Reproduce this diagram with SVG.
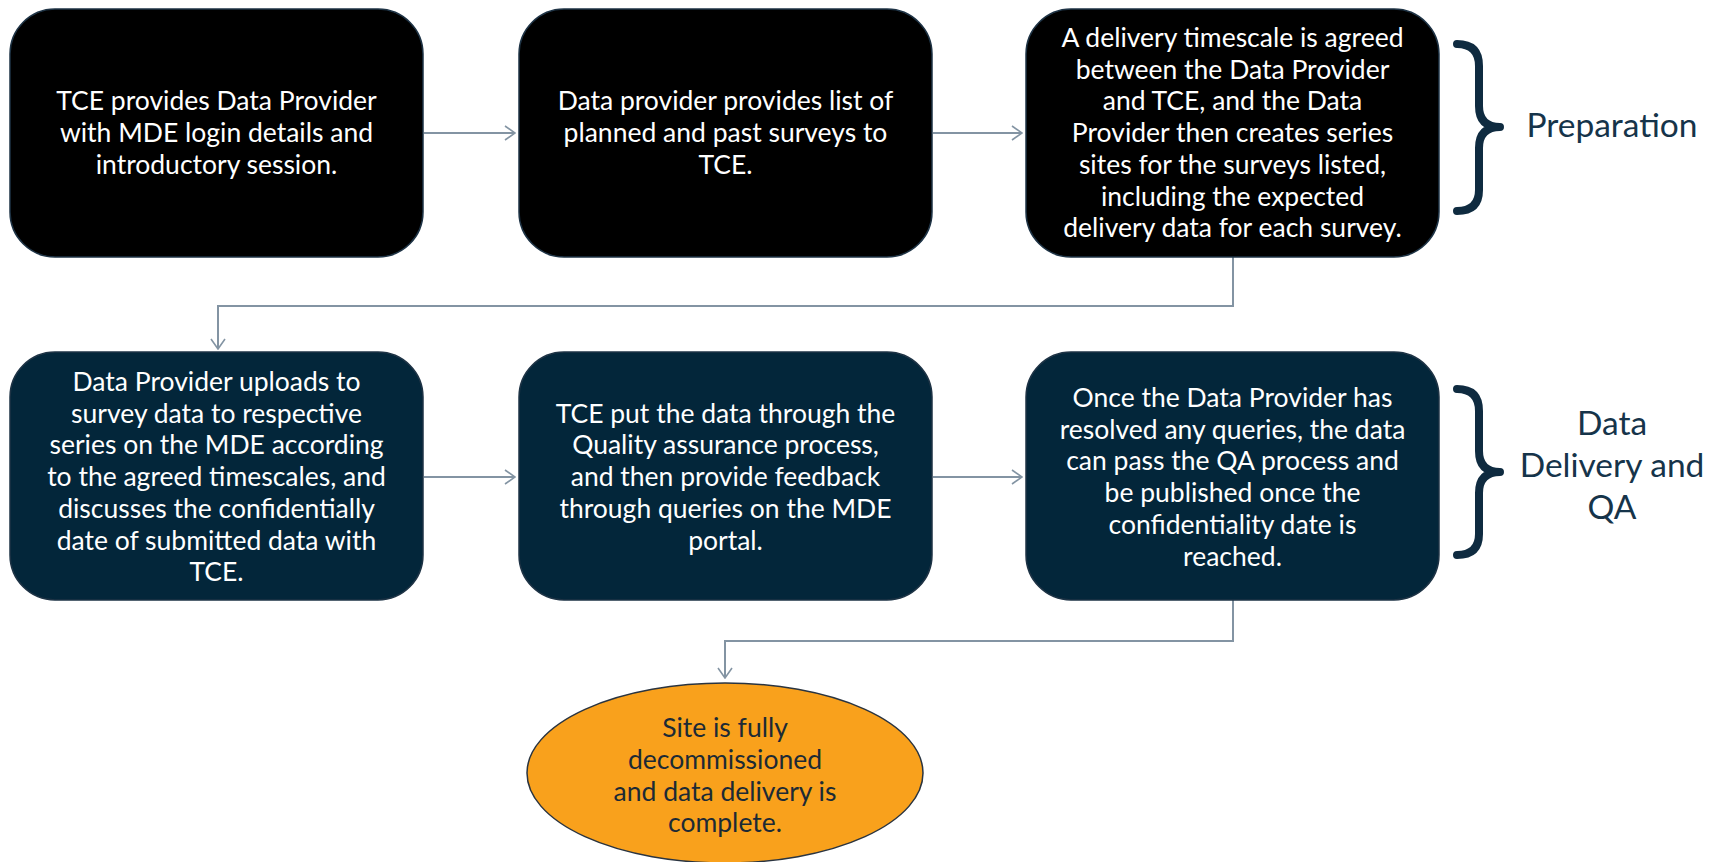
<svg xmlns="http://www.w3.org/2000/svg" width="1721" height="862" viewBox="0 0 1721 862">
<style>
.box{stroke:#1E3345;stroke-width:1.5}
.b1{fill:#000000}
.b2{fill:#03263A}
.t{font-family:Lato,"Liberation Sans",sans-serif;font-size:26.5px;fill:#ffffff;text-anchor:middle}
.te{font-family:Lato,"Liberation Sans",sans-serif;font-size:26.5px;fill:#1C2A35;text-anchor:middle}
.lbl{font-family:Lato,"Liberation Sans",sans-serif;font-size:33.5px;fill:#16344A;text-anchor:middle}
.c{fill:none;stroke:#8394A3;stroke-width:2}
.brace{fill:none;stroke:#0F2B40;stroke-width:8;stroke-linecap:round;stroke-linejoin:round}
</style>
<defs>
<marker id="ah" viewBox="0 0 12 16" refX="11" refY="8" markerWidth="12" markerHeight="16" markerUnits="userSpaceOnUse" orient="auto">
<path d="M1,1 L11,8 L1,15" fill="none" stroke="#8394A3" stroke-width="1.6"/>
</marker>
</defs>
<g id="connectors">
<line class="c" x1="424" y1="133" x2="515" y2="133" marker-end="url(#ah)"/>
<line class="c" x1="933" y1="133" x2="1022" y2="133" marker-end="url(#ah)"/>
<path class="c" d="M1233,257 V306 H218 V349" marker-end="url(#ah)"/>
<line class="c" x1="424" y1="477" x2="515" y2="477" marker-end="url(#ah)"/>
<line class="c" x1="933" y1="477" x2="1022" y2="477" marker-end="url(#ah)"/>
<path class="c" d="M1233,600 V641 H725 V678" marker-end="url(#ah)"/>
</g>
<g id="node1">
<rect class="box b1" x="10" y="9" width="413" height="248" rx="45"/>
<text class="t"><tspan x="216.5" y="110">TCE provides Data Provider</tspan><tspan x="216.5" y="142">with MDE login details and</tspan><tspan x="216.5" y="174">introductory session.</tspan></text>
</g>
<g id="node2">
<rect class="box b1" x="519" y="9" width="413" height="248" rx="45"/>
<text class="t"><tspan x="725.5" y="110">Data provider provides list of</tspan><tspan x="725.5" y="142">planned and past surveys to</tspan><tspan x="725.5" y="174">TCE.</tspan></text>
</g>
<g id="node3">
<rect class="box b1" x="1026" y="9" width="413" height="248" rx="45"/>
<text class="t"><tspan x="1232.5" y="47">A delivery timescale is agreed</tspan><tspan x="1232.5" y="79">between the Data Provider</tspan><tspan x="1232.5" y="110">and TCE, and the Data</tspan><tspan x="1232.5" y="142">Provider then creates series</tspan><tspan x="1232.5" y="174">sites for the surveys listed,</tspan><tspan x="1232.5" y="206">including the expected</tspan><tspan x="1232.5" y="237">delivery data for each survey.</tspan></text>
</g>
<g id="node4">
<rect class="box b2" x="10" y="352" width="413" height="248" rx="45"/>
<text class="t"><tspan x="216.5" y="391">Data Provider uploads to</tspan><tspan x="216.5" y="423">survey data to respective</tspan><tspan x="216.5" y="454">series on the MDE according</tspan><tspan x="216.5" y="486">to the agreed timescales, and</tspan><tspan x="216.5" y="518">discusses the confidentially</tspan><tspan x="216.5" y="550">date of submitted data with</tspan><tspan x="216.5" y="581">TCE.</tspan></text>
</g>
<g id="node5">
<rect class="box b2" x="519" y="352" width="413" height="248" rx="45"/>
<text class="t"><tspan x="725.5" y="423">TCE put the data through the</tspan><tspan x="725.5" y="454">Quality assurance process,</tspan><tspan x="725.5" y="486">and then provide feedback</tspan><tspan x="725.5" y="518">through queries on the MDE</tspan><tspan x="725.5" y="550">portal.</tspan></text>
</g>
<g id="node6">
<rect class="box b2" x="1026" y="352" width="413" height="248" rx="45"/>
<text class="t"><tspan x="1232.5" y="407">Once the Data Provider has</tspan><tspan x="1232.5" y="439">resolved any queries, the data</tspan><tspan x="1232.5" y="470">can pass the QA process and</tspan><tspan x="1232.5" y="502">be published once the</tspan><tspan x="1232.5" y="534">confidentiality date is</tspan><tspan x="1232.5" y="566">reached.</tspan></text>
</g>
<g id="node7">
<ellipse cx="725" cy="773" rx="198" ry="90" fill="#F9A11C" stroke="#2A3440" stroke-width="1.5"/>
<text class="te"><tspan x="725" y="737">Site is fully</tspan><tspan x="725" y="769">decommissioned</tspan><tspan x="725" y="801">and data delivery is</tspan><tspan x="725" y="832">complete.</tspan></text>
</g>
<g id="preparation">
<path class="brace" d="M1457,44 Q1479,44 1479,66 V106 Q1479,127 1500,127 Q1479,127 1479,148 V190 Q1479,211 1457,211"/>
<text class="lbl" x="1612" y="137">Preparation</text>
</g>
<g id="delivery">
<path class="brace" d="M1457,389 Q1479,389 1479,411 V451 Q1479,472 1500,472 Q1479,472 1479,493 V534 Q1479,555 1457,555"/>
<text class="lbl"><tspan x="1612" y="435">Data</tspan><tspan x="1612" y="477">Delivery and</tspan><tspan x="1612" y="519">QA</tspan></text>
</g>
</svg>
